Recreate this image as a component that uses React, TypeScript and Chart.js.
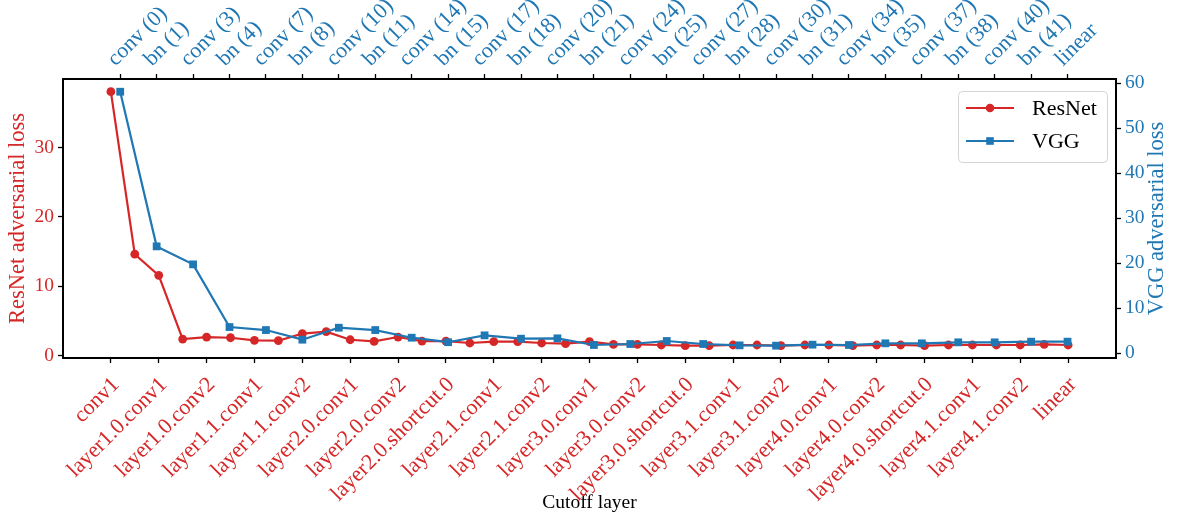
import React, { useEffect, useRef } from 'react';
import { Chart, registerables } from 'chart.js';

Chart.register(...registerables);

// ---- Data ----
const resnetLayers = [
  'conv1', 'layer1.0.conv1', 'layer1.0.conv2', 'layer1.1.conv1', 'layer1.1.conv2',
  'layer2.0.conv1', 'layer2.0.conv2', 'layer2.0.shortcut.0', 'layer2.1.conv1', 'layer2.1.conv2',
  'layer3.0.conv1', 'layer3.0.conv2', 'layer3.0.shortcut.0', 'layer3.1.conv1', 'layer3.1.conv2',
  'layer4.0.conv1', 'layer4.0.conv2', 'layer4.0.shortcut.0', 'layer4.1.conv1', 'layer4.1.conv2',
  'linear',
];

const resnetLoss = [
  38.05, 14.6, 11.55, 2.36, 2.65, 2.55, 2.17, 2.12, 3.13, 3.42,
  2.26, 2.02, 2.65, 2.07, 2.07, 1.79, 1.98, 1.98, 1.79, 1.69,
  1.98, 1.59, 1.59, 1.5, 1.4, 1.4, 1.5, 1.5, 1.4, 1.5,
  1.5, 1.4, 1.5, 1.5, 1.4, 1.5, 1.5, 1.5, 1.5, 1.6,
  1.5,
];

const vggLayers = [
  'conv (0)', 'bn (1)', 'conv (3)', 'bn (4)', 'conv (7)', 'bn (8)', 'conv (10)', 'bn (11)',
  'conv (14)', 'bn (15)', 'conv (17)', 'bn (18)', 'conv (20)', 'bn (21)', 'conv (24)', 'bn (25)',
  'conv (27)', 'bn (28)', 'conv (30)', 'bn (31)', 'conv (34)', 'bn (35)', 'conv (37)', 'bn (38)',
  'conv (40)', 'bn (41)', 'linear',
];

const vggLoss = [
  58.07, 23.7, 19.7, 5.77, 5.1, 2.96, 5.62, 5.1, 3.4, 2.4,
  3.92, 3.18, 3.26, 1.78, 2.0, 2.67, 2.0, 1.7, 1.63, 1.85,
  1.78, 2.15, 2.15, 2.37, 2.37, 2.52, 2.52,
];

const resnetYTicks = [0, 10, 20, 30];
const vggYTicks = [0, 10, 20, 30, 40, 50, 60];

const seriesNames = ['ResNet', 'VGG'];
const xTitle = 'Cutoff layer';
const resnetYTitle = 'ResNet adversarial loss';
const vggYTitle = 'VGG adversarial loss';

// ---- Styles ----
const RED = '#d62728';
const BLUE = '#1f77b4';
const FAMILY = "'Liberation Serif', 'Times New Roman', serif";
const X_TICK_FS = 22;
const Y_TICK_FS = 19.5;
const Y_TITLE_FS = 22.5;
const X_TITLE_FS = 19.5;
const LEGEND_FS = 22;

const legendPlugin = {
  id: 'innerLegendAndTitle',
  afterDraw(chart: any) {
    const { ctx, chartArea: a } = chart;
    ctx.save();
    // right axis title, reading bottom-to-top
    ctx.fillStyle = BLUE;
    ctx.font = `${Y_TITLE_FS}px ${FAMILY}`;
    ctx.textAlign = 'center';
    ctx.textBaseline = 'middle';
    ctx.translate(1157, (a.top + a.bottom) / 2);
    ctx.rotate(-Math.PI / 2);
    ctx.fillText(vggYTitle, 0, 0);
    ctx.restore();

    // legend box
    ctx.save();
    const x0 = a.right - 158;
    const y0 = a.top + 12;
    const w = 149;
    const h = 71;
    ctx.beginPath();
    if ((ctx as any).roundRect) (ctx as any).roundRect(x0 + 0.5, y0 + 0.5, w, h, 4);
    else ctx.rect(x0 + 0.5, y0 + 0.5, w, h);
    ctx.fillStyle = 'rgba(255,255,255,0.85)';
    ctx.fill();
    ctx.strokeStyle = '#d4d4d4';
    ctx.lineWidth = 1;
    ctx.stroke();

    chart.data.datasets.forEach((ds: any, i: number) => {
      const cy = y0 + 17 + i * 33;
      ctx.strokeStyle = ds.borderColor;
      ctx.lineWidth = 2.2;
      ctx.beginPath();
      ctx.moveTo(x0 + 8, cy);
      ctx.lineTo(x0 + 56, cy);
      ctx.stroke();
      ctx.fillStyle = ds.borderColor;
      if (i === 0) {
        ctx.beginPath();
        ctx.arc(x0 + 32, cy, 4.3, 0, Math.PI * 2);
        ctx.fill();
      } else {
        ctx.fillRect(x0 + 32 - 3.8, cy - 3.8, 7.6, 7.6);
      }
      ctx.fillStyle = '#000';
      ctx.font = `${LEGEND_FS}px ${FAMILY}`;
      ctx.textAlign = 'left';
      ctx.textBaseline = 'middle';
      ctx.fillText(seriesNames[i], x0 + 74, cy + 1);
    });
    ctx.restore();
  },
};

export default function App() {
  const canvasRef = useRef<HTMLCanvasElement | null>(null);

  useEffect(() => {
    document.body.style.margin = '0';
    const canvas = canvasRef.current;
    if (!canvas) return;

    const xTickFont = { family: FAMILY, size: X_TICK_FS };
    const yTickFont = { family: FAMILY, size: Y_TICK_FS };
    const tickGrid = {
      drawOnChartArea: false,
      drawTicks: true,
      tickLength: 5,
      tickWidth: 1.3,
      tickColor: '#000',
    };
    const border = { display: true, color: '#000', width: 2 };

    const chart = new Chart(canvas, {
      type: 'line',
      data: {
        datasets: [
          {
            label: seriesNames[0],
            data: resnetLoss.map((v, i) => ({ x: i, y: v })),
            xAxisID: 'x',
            yAxisID: 'y',
            borderColor: RED,
            backgroundColor: RED,
            borderWidth: 2.2,
            pointStyle: 'circle',
            pointRadius: 4.4,
            pointBorderWidth: 0,
            pointBackgroundColor: RED,
            tension: 0,
            order: 1,
          },
          {
            label: seriesNames[1],
            data: vggLoss.map((v, i) => ({ x: i, y: v })),
            xAxisID: 'x2',
            yAxisID: 'y2',
            borderColor: BLUE,
            backgroundColor: BLUE,
            borderWidth: 2.2,
            pointStyle: 'rect',
            pointRadius: 5.5,
            pointBorderWidth: 0,
            pointBackgroundColor: BLUE,
            tension: 0,
            order: 0,
          },
        ],
      },
      options: {
        responsive: false,
        animation: false,
        layout: { padding: 0 },
        plugins: {
          legend: { display: false },
          tooltip: { enabled: false },
        },
        scales: {
          x: {
            type: 'linear',
            position: 'bottom',
            min: -2,
            max: 42,
            afterBuildTicks: (s: any) => {
              s.ticks = resnetLayers.map((_, i) => ({ value: i * 2 }));
            },
            afterFit: (s: any) => {
              s.height = 160;
            },
            grid: tickGrid,
            border,
            ticks: {
              autoSkip: false,
              minRotation: 45,
              maxRotation: 45,
              color: RED,
              font: xTickFont,
              padding: 9,
              labelOffset: 5,
              callback: (v: any) => resnetLayers[Math.round(Number(v) / 2)] ?? '',
            },
            title: {
              display: true,
              text: xTitle,
              color: '#000',
              font: { family: FAMILY, size: X_TITLE_FS },
              padding: { top: 0, bottom: 3 },
            },
          },
          x2: {
            type: 'linear',
            position: 'top',
            min: -1.57,
            max: 27.33,
            afterBuildTicks: (s: any) => {
              s.ticks = vggLayers.map((_, i) => ({ value: i }));
            },
            afterFit: (s: any) => {
              s.height = 79;
            },
            grid: tickGrid,
            border,
            ticks: {
              autoSkip: false,
              minRotation: 45,
              maxRotation: 45,
              color: BLUE,
              font: xTickFont,
              padding: 2,
              labelOffset: 10,
              callback: (v: any) => vggLayers[Math.round(Number(v))] ?? '',
            },
          },
          y: {
            type: 'linear',
            position: 'left',
            min: -0.375,
            max: 39.88,
            afterBuildTicks: (s: any) => {
              s.ticks = resnetYTicks.map((v) => ({ value: v }));
            },
            afterFit: (s: any) => {
              s.width = 63;
            },
            grid: tickGrid,
            border,
            ticks: { color: RED, font: yTickFont, padding: 4 },
            title: {
              display: true,
              text: resnetYTitle,
              color: RED,
              font: { family: FAMILY, size: Y_TITLE_FS },
              padding: { top: 5, bottom: 0 },
            },
          },
          y2: {
            type: 'linear',
            position: 'right',
            min: -1.11,
            max: 60.9,
            afterBuildTicks: (s: any) => {
              s.ticks = vggYTicks.map((v) => ({ value: v }));
            },
            afterFit: (s: any) => {
              s.width = 62;
            },
            grid: tickGrid,
            border,
            ticks: { color: BLUE, font: yTickFont, padding: 4 },
          },
        },
      },
      plugins: [legendPlugin],
    });

    return () => chart.destroy();
  }, []);

  return (
    <div style={{ width: 1178, height: 518, position: 'relative' }}>
      <canvas ref={canvasRef} width={1178} height={518} style={{ display: 'block' }} />
    </div>
  );
}
